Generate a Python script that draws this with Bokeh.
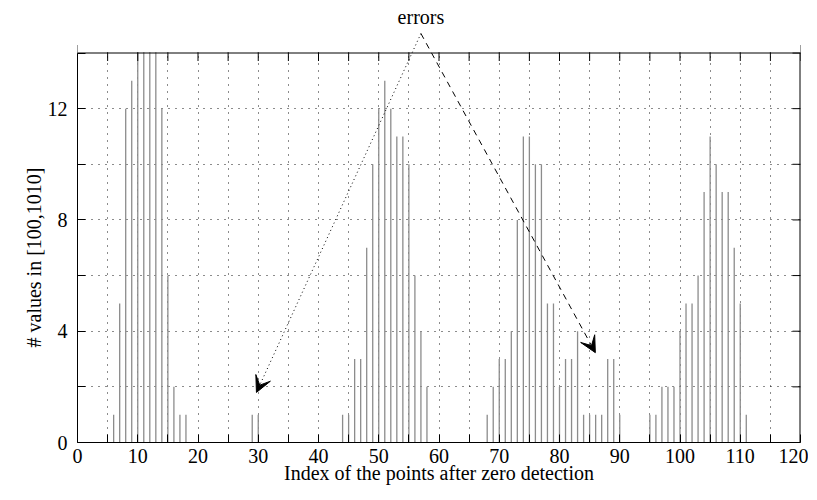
from bokeh.plotting import figure
from bokeh.models import (Arrow, VeeHead, Label, FixedTicker, Title, Span,
                          BoxAnnotation, ColumnDataSource, Range1d)
from bokeh.embed import file_html
from bokeh.resources import INLINE

# ---- data ----
index = [6, 7, 8, 9, 10, 11, 12, 13, 14, 15, 16, 17, 18,
         29, 30,
         44, 45, 46, 47, 48, 49, 50, 51, 52, 53, 54, 55, 56, 57, 58,
         68, 69, 70, 71, 72, 73, 74, 75, 76, 77, 78, 79, 80, 81, 82, 83,
         84, 85, 86, 87, 88, 89, 90,
         95, 96, 97, 98, 99, 100, 101, 102, 103, 104, 105, 106, 107, 108,
         109, 110, 111]
counts = [1, 5, 12, 13, 15, 15, 15, 15, 12, 6, 2, 1, 1,
          1, 1,
          1, 1, 3, 3, 7, 10, 12, 13, 12, 11, 11, 10, 6, 4, 2,
          1, 2, 3, 3, 4, 8, 11, 11, 10, 10, 5, 5, 2, 3, 3, 4,
          1, 1, 1, 1, 3, 3, 1,
          1, 1, 2, 2, 2, 4, 5, 5, 6, 9, 11, 10, 9, 9,
          7, 5, 1]

x_min, x_max = 0, 120
y_min, y_max = 0, 14
x_ticks = list(range(0, 121, 5))
x_labels = {t: (str(t) if t % 10 == 0 else "") for t in x_ticks}
y_ticks = list(range(0, 15, 2))
y_labels = {t: (str(t) if t % 4 == 0 else "") for t in y_ticks}

x_title = "Index of the points after zero detection"
y_title = "# values in [100,1010]"
note_text = "errors"
# annotation arrows (data coordinates): apex -> two error locations
apex = (57, 14.7)
targets = [(29.7, 1.8), (85.95, 3.23)]
note_pos = (57, 15.3)

FONT = "Liberation Serif"
FS = "20px"

src = ColumnDataSource(dict(x=index, zero=[0] * len(index), y=counts))

# frame extends a bit above y=14 so the annotation can be drawn there
p = figure(frame_width=723, frame_height=434,
           x_range=Range1d(x_min, x_max), y_range=Range1d(y_min, 15.6),
           output_backend="svg", toolbar_location=None,
           min_border_left=77, min_border_top=8,
           min_border_bottom=10, min_border_right=8)
p.background_fill_color = "white"
p.border_fill_color = "white"
p.outline_line_color = None

p.segment(x0="x", y0="zero", x1="x", y1="y", source=src,
          line_color="#8c8c8c", line_width=1.3)

# grid
p.xgrid.ticker = FixedTicker(ticks=[t for t in x_ticks if x_min < t < x_max])
p.ygrid.ticker = FixedTicker(ticks=[t for t in y_ticks if y_min < t < y_max])
for g in (p.xgrid, p.ygrid):
    g.grid_line_color = "black"
    g.grid_line_dash = "1 6"
    g.grid_line_width = 1
    g.grid_line_alpha = 0.9

# real axes
for ax, ticks, labels, stand in ((p.xaxis[0], x_ticks, x_labels, 6),
                                 (p.yaxis[0], y_ticks, y_labels, 10)):
    ax.ticker = FixedTicker(ticks=ticks)
    ax.major_label_overrides = labels
    ax.major_tick_in = 8
    ax.major_tick_out = 0
    ax.minor_tick_line_color = None
    ax.axis_line_color = "black"
    ax.major_tick_line_color = "black"
    ax.major_label_text_font = FONT
    ax.major_label_text_font_size = FS
    ax.major_label_text_color = "black"
    ax.major_label_standoff = stand
p.yaxis[0].bounds = (y_min, y_max)

p.xaxis[0].axis_label = x_title
p.xaxis[0].axis_label_text_font = FONT
p.xaxis[0].axis_label_text_font_size = FS
p.xaxis[0].axis_label_text_font_style = "normal"
p.xaxis[0].axis_label_text_color = "black"
p.xaxis[0].axis_label_standoff = -4

p.add_layout(Title(text=y_title, align="left", offset=95, standoff=0,
                   vertical_align="bottom", text_font=FONT,
                   text_font_size=FS, text_font_style="normal",
                   text_color="black"), "left")

# mirrored ticks (top and right) and right border
p.scatter(x=x_ticks, y=[y_max] * len(x_ticks), marker="dash", size=16,
          angle=1.5707963, line_color="black", line_width=1)
p.scatter(x=[x_max] * len(y_ticks), y=y_ticks, marker="dash", size=16,
          line_color="black", line_width=1)
p.segment(x0=[x_max], y0=[y_min], x1=[x_max], y1=[y_max],
          line_color="black", line_width=2)

# white mask over everything above the top border
p.add_layout(BoxAnnotation(bottom=y_max + 0.03, fill_color="white",
                           fill_alpha=1, line_color=None,
                           level="annotation"))
p.add_layout(Span(location=y_max, dimension="width", line_color="black",
                  line_width=1, level="annotation"))

# annotation
p.add_layout(Label(x=note_pos[0], y=note_pos[1], text=note_text,
                   text_align="center", text_baseline="middle",
                   text_font=FONT, text_font_size=FS, text_color="black"))
p.add_layout(Arrow(x_start=apex[0], y_start=apex[1],
                   x_end=targets[0][0], y_end=targets[0][1],
                   line_color="black", line_width=1, line_dash="1 3",
                   end=VeeHead(size=16, fill_color="black",
                               line_color="black", line_width=1)))
p.add_layout(Arrow(x_start=apex[0], y_start=apex[1],
                   x_end=targets[1][0], y_end=targets[1][1],
                   line_color="black", line_width=1, line_dash="6 5",
                   end=VeeHead(size=16, fill_color="black",
                               line_color="black", line_width=1)))

open("out.html", "w").write(file_html(p, INLINE))
